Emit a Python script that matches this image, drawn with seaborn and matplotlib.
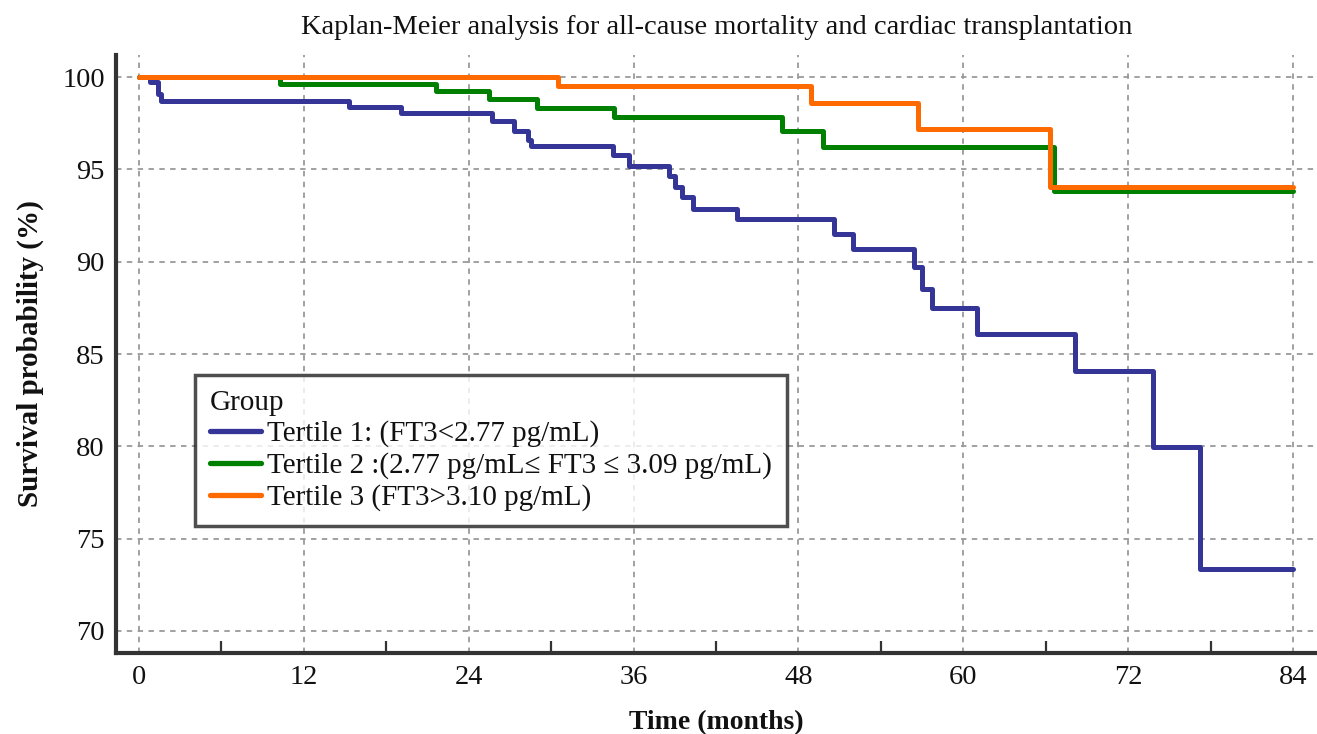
import numpy as np
import pandas as pd
import matplotlib
matplotlib.use("Agg")
import matplotlib.pyplot as plt
import seaborn as sns

# ---- data (step points: time in months, survival %) ----
T1_TIME = [0, 0.8, 1.35, 1.6, 15.3, 19.1, 25.7, 27.3, 28.3, 28.5, 34.5, 35.7, 38.6, 39.0,
           39.5, 40.3, 43.5, 50.6, 52.0, 56.4, 57.0, 57.7, 61.0, 68.1, 73.8, 77.2, 84]
T1_SURV = [100, 99.75, 99.1, 98.7, 98.4, 98.05, 97.6, 97.1, 96.6, 96.27, 95.77, 95.17, 94.63, 94.05,
           93.5, 92.87, 92.33, 91.5, 90.67, 89.7, 88.53, 87.5, 86.06, 84.1, 79.95, 73.35, 73.35]

T2_TIME = [0, 10.25, 21.6, 25.5, 29.0, 34.6, 46.8, 49.8, 66.6, 84]
T2_SURV = [100, 99.6, 99.24, 98.8, 98.33, 97.85, 97.1, 96.2, 93.83, 93.83]

T3_TIME = [0, 30.5, 48.9, 56.7, 66.3, 84]
T3_SURV = [100, 99.5, 98.6, 97.2, 94.05, 94.05]

GROUPS = ['Tertile 1: (FT3<2.77 pg/mL)',
          'Tertile 2 :(2.77 pg/mL\u2264 FT3 \u2264 3.09 pg/mL)',
          'Tertile 3 (FT3>3.10 pg/mL)']
COLORS = ['#353597', '#008000', '#FF6A00']

X_TICKS = list(range(0, 85, 12))
Y_TICKS = list(range(70, 101, 5))

# ---- style ----
sns.set_theme(style="white")
plt.rcParams['font.family'] = ['Liberation Serif', 'DejaVu Serif']
plt.rcParams['text.color'] = '#111111'
plt.rcParams['axes.labelcolor'] = '#111111'
plt.rcParams['xtick.labelcolor'] = '#111111'
plt.rcParams['ytick.labelcolor'] = '#111111'

df = pd.concat([
    pd.DataFrame({'time': t, 'surv': s, 'group': g})
    for t, s, g in zip([T1_TIME, T2_TIME, T3_TIME], [T1_SURV, T2_SURV, T3_SURV], GROUPS)
], ignore_index=True)

fig = plt.figure(figsize=(13.17, 7.34), dpi=100)
ax = fig.add_axes([0.0881, 0.1104, 0.9119, 0.8146])

sns.lineplot(data=df, x='time', y='surv', hue='group', hue_order=GROUPS,
             palette=dict(zip(GROUPS, COLORS)), estimator=None, sort=False,
             drawstyle='steps-post', linewidth=3.6, ax=ax)

ax.set_xlim(-1.67, 85.75)
ax.set_ylim(68.81, 101.19)
ax.set_xticks(X_TICKS)
ax.set_xticks([6 + 12 * i for i in range(7)], minor=True)
ax.set_yticks(Y_TICKS)

ax.grid(True, which='major', color='#9a9a9a', linestyle=(0, (3, 3)), linewidth=1.3)
ax.set_axisbelow(True)

for side in ['top', 'right']:
    ax.spines[side].set_visible(False)
for side in ['left', 'bottom']:
    ax.spines[side].set_color('#333333')
    ax.spines[side].set_linewidth(3)

ax.tick_params(axis='y', which='major', direction='in', length=16, width=2.2,
               color='#333333', labelsize=20.5, pad=8)
ax.tick_params(axis='x', which='major', direction='in', length=15, width=1.6,
               color='#333333', labelsize=20.5, pad=9)
ax.tick_params(axis='x', which='minor', direction='in', length=8.5, width=1.6,
               color='#333333', bottom=True)

ax.set_title('Kaplan-Meier analysis for all-cause mortality and cardiac transplantation',
             fontsize=20.5, pad=15)
ax.set_ylabel('Survival probability (%)', fontsize=21, fontweight='bold', labelpad=13)
ax.set_xlabel('Time (months)', fontsize=20, fontweight='bold', labelpad=14)

leg = ax.legend(title='Group', loc='upper left', bbox_to_anchor=(0.0658, 0.465),
                borderaxespad=0, fontsize=21, title_fontsize=21, frameon=True,
                fancybox=False, handlelength=1.75, handletextpad=0.22, borderpad=0.5,
                labelspacing=0.17)
leg._legend_box.align = 'left'
leg.get_frame().set_edgecolor('#222222')
leg.get_frame().set_linewidth(2.5)
for line in leg.get_lines():
    line.set_linewidth(3.8)

fig.savefig('out.png', dpi=100)
